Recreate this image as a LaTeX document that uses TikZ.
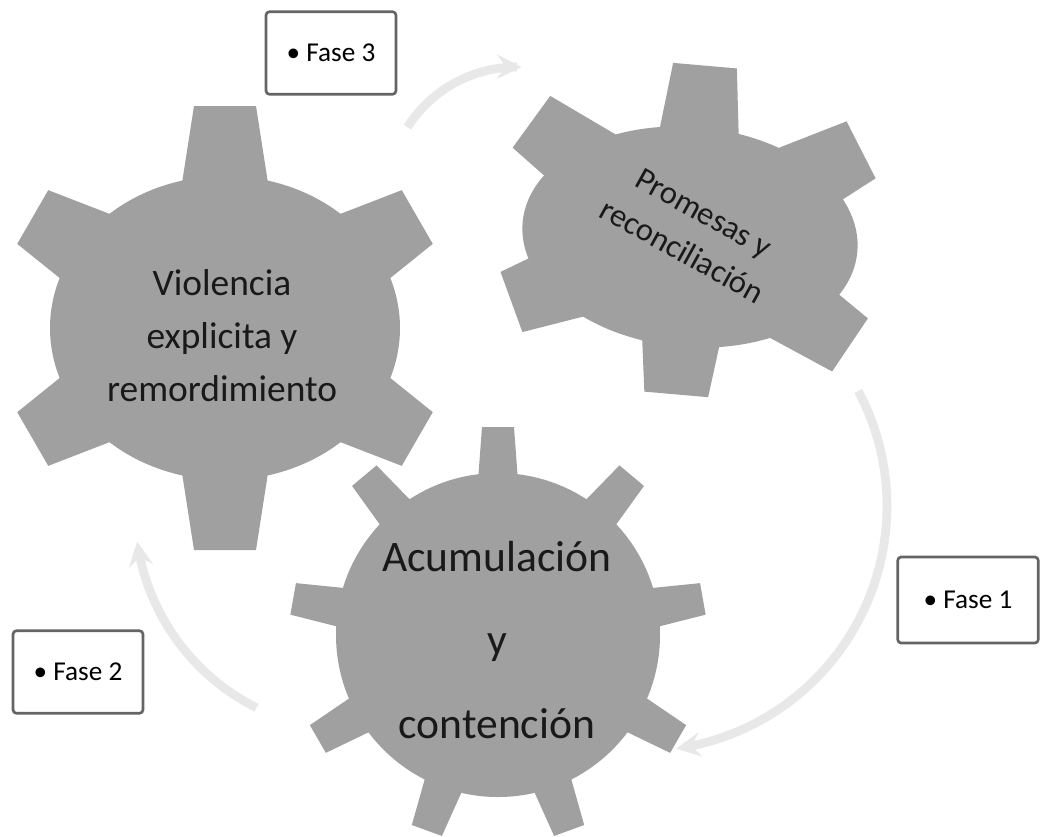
\documentclass[tikz,border=0pt]{standalone}
\usepackage{fontspec}
\setmainfont{Carlito}
\usepackage{tikz}
\usetikzlibrary{shapes.geometric, arrows}
\definecolor{gearfill}{RGB}{160,160,160}
\definecolor{boxline}{RGB}{100,100,100}
\definecolor{arcgray}{RGB}{232,232,232}
\tikzstyle{gearbody} = [fill=gearfill]
\tikzstyle{geartext} = [align=center, text=black!90, inner sep=0]
\tikzstyle{fasebox} = [rectangle, draw=boxline, line width=1.5pt, rounded corners=2pt, fill=white, minimum width=74pt, minimum height=47pt, font=\fontsize{15.5}{18}\selectfont]
\tikzstyle{cyclearrow} = [draw=arcgray, line width=5pt, ->, >=stealth]

\begin{document}
\begin{tikzpicture}[x=0.02cm, y=-0.02cm]
\useasboundingbox (0,0) rectangle (1041,836);

\coordinate (Vc) at (225,328);
\coordinate (Pc) at (690,237);
\coordinate (Ac) at (498,635);

% arrows round the cycle
\draw[cyclearrow] plot[domain=212.5:272, samples=30, variable=\t] ({517+130*cos(\t)}, {197+130*sin(\t)});
\draw[cyclearrow] plot[domain=-28:82, samples=40, variable=\t] ({642+245*cos(\t)}, {506+245*sin(\t)});
\draw[cyclearrow] plot[domain=116.6:172, samples=30, variable=\t] ({355+220*cos(\t)}, {511+220*sin(\t)});

% gears
\fill[gearbody] (Vc) ellipse [x radius=175, y radius=152];
\foreach \a in {30,90,...,330}
  \fill[gearbody, shift={(Vc)}, rotate=\a] (100,-50) -- (222,-31) -- (222,31) -- (100,50) -- cycle;

\fill[gearbody, rotate around={-5:(Pc)}] (Pc) ellipse [x radius=168, y radius=110];
\foreach \a/\l in {85/172, 27/192, 144/196, 200/190, 265/158, 326/193}
  \fill[gearbody, shift={(Pc)}, rotate=\a] (50,-46) -- (\l,-32) -- (\l,32) -- (50,46) -- cycle;

\fill[gearbody] (Ac) circle [radius=162];
\foreach \a in {10,50,...,330}
  \fill[gearbody, shift={(Ac)}, rotate=\a] (100,-24) -- (208,-16) -- (208,16) -- (100,24) -- cycle;

\node[geartext, font=\fontsize{21.3}{30.2}\selectfont] (V) at (222,336) {Violencia\\explicita y\\remordimiento};
\node[geartext, rotate=-29, font=\fontsize{18.5}{25}\selectfont] (P) at (693,232) {Promesas y\\reconciliación};
\node[geartext, font=\fontsize{24.8}{47.8}\selectfont] (A) at (497,640) {Acumulación\\y\\contención};

% phase labels
\node[fasebox] (F3) at (331,53) {\textbullet\ Fase 3};
\node[fasebox] (F2) at (78,672) {\textbullet\ Fase 2};
\node[fasebox, minimum width=80pt, minimum height=49pt] (F1) at (968,600) {\textbullet\ Fase 1};

\end{tikzpicture}
\end{document}
